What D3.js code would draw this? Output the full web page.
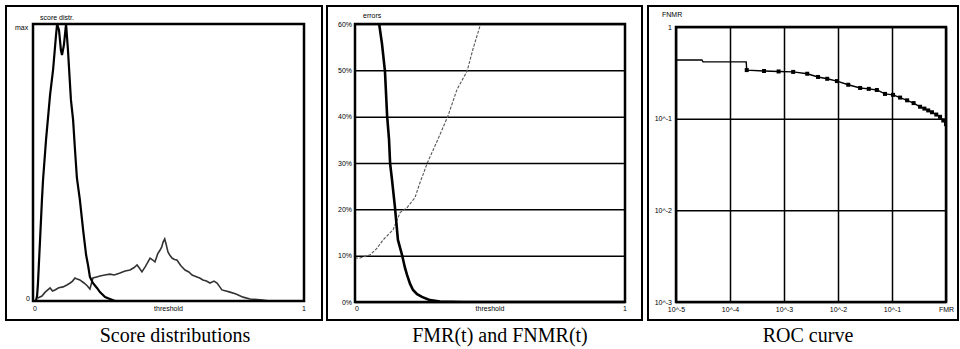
<!DOCTYPE html>
<html>
<head>
<meta charset="utf-8">
<script src="https://cdn.jsdelivr.net/npm/d3@7"></script>
<style>
  body { margin: 0; background: #fff; }
  .tiny { font-family: "Liberation Sans", Arial, sans-serif; font-size: 7px; fill: #000; }
  .caption { font-family: "Liberation Serif", "Times New Roman", serif; font-size: 20px; fill: #000; }
</style>
</head>
<body>
<div id="chart"></div>
<script>
// score distributions (threshold, normalised frequency)
const impostorT = [0.011,0.015,0.018,0.026,0.033,0.037,0.048,0.063,0.074,0.085,0.089,0.096,0.103,0.107,0.114,0.122,0.129,0.140,0.148,0.155,0.162,0.173,0.185,0.196,0.203,0.210,0.221,0.236,0.247,0.266,0.284,0.303];
const impostorV = [0,0.018,0.058,0.22,0.365,0.437,0.581,0.744,0.834,0.96,1.0,0.978,0.906,0.888,0.924,1.0,0.906,0.726,0.653,0.545,0.444,0.365,0.256,0.166,0.13,0.087,0.065,0.047,0.032,0.014,0.007,0];
const genuineT = [0.018,0.033,0.045,0.063,0.072,0.081,0.095,0.111,0.125,0.137,0.146,0.155,0.163,0.173,0.188,0.200,0.210,0.221,0.235,0.247,0.265,0.284,0.300,0.321,0.340,0.358,0.372,0.384,0.393,0.402,0.415,0.432,0.442,0.450,0.460,0.469,0.475,0.480,0.486,0.491,0.498,0.505,0.513,0.522,0.531,0.545,0.561,0.575,0.587,0.605,0.615,0.627,0.640,0.653,0.668,0.679,0.690,0.697,0.712,0.727,0.749,0.775,0.801,0.838,0.875];
const genuineV = [0.011,0.018,0.032,0.047,0.036,0.040,0.048,0.051,0.058,0.065,0.072,0.083,0.079,0.076,0.065,0.055,0.043,0.083,0.087,0.090,0.094,0.097,0.094,0.101,0.108,0.112,0.120,0.130,0.118,0.105,0.125,0.155,0.148,0.141,0.170,0.184,0.195,0.213,0.224,0.206,0.177,0.165,0.155,0.150,0.148,0.128,0.112,0.105,0.094,0.087,0.083,0.076,0.072,0.065,0.072,0.065,0.050,0.040,0.036,0.032,0.025,0.014,0.007,0.004,0];

// error rates vs threshold (%)
const fnmrT = [0.08,0.089,0.10,0.111,0.119,0.126,0.130,0.137,0.148,0.159,0.174,0.185,0.193,0.204,0.215,0.230,0.248,0.278,0.315,0.40,0.60,0.80,1.0];
const fnmrV = [63,60.2,55.7,49.8,40.1,35.1,29.9,26.4,20.4,13.4,10.2,7.4,5.8,3.9,2.6,1.7,1.1,0.4,0.1,0,0,0,0];
const fmrT = [0,0.019,0.056,0.080,0.104,0.141,0.167,0.193,0.222,0.241,0.252,0.267,0.307,0.344,0.378,0.415,0.437,0.463,0.475];
const fmrV = [9.5,9.5,10.2,11.5,13.4,15.6,19.3,20.4,22.5,25.8,27.5,29.9,35.1,40.1,45.9,49.8,54.6,59.6,62];
const pctTicks = [0,10,20,30,40,50,60];

// ROC curve (FMR, FNMR)
const rocLogFMR = [-5,-4.52,-4.5,-3.70,-3.69,-3.37,-3.10,-2.83,-2.57,-2.37,-2.20,-2.02,-1.81,-1.59,-1.43,-1.28,-1.13,-0.98,-0.85,-0.72,-0.60,-0.48,-0.40,-0.33,-0.26,-0.18,-0.11,-0.05,0];
const rocLogFNMR = [-0.36,-0.36,-0.38,-0.38,-0.47,-0.48,-0.485,-0.49,-0.51,-0.545,-0.565,-0.59,-0.63,-0.665,-0.675,-0.687,-0.73,-0.74,-0.77,-0.80,-0.83,-0.87,-0.89,-0.91,-0.93,-0.955,-0.98,-1.02,-1.06];
const rocMarkFrom = 4;
const logTicks = [1e-5,1e-4,1e-3,1e-2,1e-1,1];
const rocXLabels = ["10^-5","10^-4","10^-3","10^-2","10^-1","FMR"];
const rocYTicks = [1,1e-1,1e-2,1e-3];
const rocYLabels = ["1","10^-1","10^-2","10^-3"];

const captions = ["Score distributions","FMR(t) and FNMR(t)","ROC curve"];

const svg = d3.select('#chart').append('svg').attr('width', 960).attr('height', 349);

const panels = [
  {outer:[6,6,322,320], inner:[33,24,304,301], cap:175},
  {outer:[327,6,642,320], inner:[355,24,625,302], cap:500},
  {outer:[648,6,958,320], inner:[676,27,946,302], cap:808}
];

panels.forEach((p, i) => {
  svg.append('rect')
    .attr('x', p.outer[0]).attr('y', p.outer[1])
    .attr('width', p.outer[2]-p.outer[0]).attr('height', p.outer[3]-p.outer[1])
    .attr('fill', 'none').attr('stroke', '#000').attr('stroke-width', 2);
  svg.append('text').attr('class', 'caption')
    .attr('x', p.cap).attr('y', 342).attr('text-anchor', 'middle')
    .text(captions[i]);
});

function clip(id, p) {
  svg.append('clipPath').attr('id', id).append('rect')
    .attr('x', p.inner[0]).attr('y', p.inner[1])
    .attr('width', p.inner[2]-p.inner[0]).attr('height', p.inner[3]-p.inner[1]);
}

function frame(p) {
  svg.append('rect')
    .attr('x', p.inner[0]).attr('y', p.inner[1])
    .attr('width', p.inner[2]-p.inner[0]).attr('height', p.inner[3]-p.inner[1])
    .attr('fill', 'none').attr('stroke', '#000').attr('stroke-width', 2.5);
}

function tiny(x, y, t, anchor) {
  svg.append('text').attr('class', 'tiny')
    .attr('x', x).attr('y', y).attr('text-anchor', anchor || 'start').text(t);
}

// ---- panel 1: score distributions
{
  const p = panels[0];
  const x = d3.scaleLinear().domain([0,1]).range([p.inner[0], p.inner[2]]);
  const y = d3.scaleLinear().domain([0,1]).range([p.inner[3], p.inner[1]]);
  clip('c1', p);
  const line = d3.line().x(d => x(d[0])).y(d => y(d[1]));
  const g = svg.append('g').attr('clip-path', 'url(#c1)');
  g.append('path').datum(d3.zip(genuineT, genuineV)).attr('d', line)
    .attr('fill', 'none').attr('stroke', '#333').attr('stroke-width', 1.6);
  g.append('path').datum(d3.zip(impostorT, impostorV)).attr('d', line)
    .attr('fill', 'none').attr('stroke', '#000').attr('stroke-width', 2.2);
  frame(p);
  tiny(40, 20, 'score distr.');
  tiny(15, 30, 'max');
  tiny(x(0)-3, y(0), '0', 'end');
  tiny(x(0)+2, 311, '0', 'middle');
  tiny(x(0.5), 311, 'threshold', 'middle');
  tiny(x(1), 311, '1', 'middle');
}

// ---- panel 2: FMR(t) and FNMR(t)
{
  const p = panels[1];
  const x = d3.scaleLinear().domain([0,1]).range([p.inner[0], p.inner[2]]);
  const y = d3.scaleLinear().domain([0,60]).range([p.inner[3], p.inner[1]]);
  clip('c2', p);
  svg.append('g').attr('transform', `translate(${p.inner[0]},0)`)
    .call(d3.axisLeft(y).tickValues(pctTicks).tickSize(-(p.inner[2]-p.inner[0])).tickPadding(3).tickFormat(d => d + '%'))
    .call(a => a.select('.domain').remove())
    .call(a => a.selectAll('line').attr('stroke', '#000').attr('stroke-width', 1.5))
    .call(a => a.selectAll('text').attr('class', 'tiny').attr('font-size', null).attr('font-family', null));
  const line = d3.line().x(d => x(d[0])).y(d => y(d[1]));
  const g = svg.append('g').attr('clip-path', 'url(#c2)');
  g.append('path').datum(d3.zip(fmrT, fmrV)).attr('d', line)
    .attr('fill', 'none').attr('stroke', '#555').attr('stroke-width', 1.1).attr('stroke-dasharray', '3,1.5');
  g.append('path').datum(d3.zip(fnmrT, fnmrV)).attr('d', line)
    .attr('fill', 'none').attr('stroke', '#000').attr('stroke-width', 2.6);
  frame(p);
  tiny(p.inner[0]+8, 18, 'errors');
  tiny(x(0)+2, 311, '0', 'middle');
  tiny(x(0.5), 311, 'threshold', 'middle');
  tiny(x(1), 311, '1', 'middle');
}

// ---- panel 3: ROC curve
{
  const p = panels[2];
  const x = d3.scaleLog().domain([1e-5,1]).range([p.inner[0], p.inner[2]]);
  const y = d3.scaleLog().domain([1e-3,1]).range([p.inner[3], p.inner[1]]);
  clip('c3', p);
  svg.append('g').attr('transform', `translate(0,${p.inner[3]})`)
    .call(d3.axisBottom(x).tickValues(logTicks).tickSize(-(p.inner[3]-p.inner[1])).tickPadding(5)
      .tickFormat((d, i) => rocXLabels[i]))
    .call(a => a.select('.domain').remove())
    .call(a => a.selectAll('line').attr('stroke', '#000').attr('stroke-width', 1.5))
    .call(a => a.selectAll('text').attr('class', 'tiny').attr('font-size', null).attr('font-family', null));
  svg.append('g').attr('transform', `translate(${p.inner[0]},0)`)
    .call(d3.axisLeft(y).tickValues(rocYTicks).tickSize(-(p.inner[2]-p.inner[0])).tickPadding(4)
      .tickFormat((d, i) => rocYLabels[i]))
    .call(a => a.select('.domain').remove())
    .call(a => a.selectAll('line').attr('stroke', '#000').attr('stroke-width', 1.5))
    .call(a => a.selectAll('text').attr('class', 'tiny').attr('font-size', null).attr('font-family', null));
  const pts = d3.zip(rocLogFMR, rocLogFNMR).map(d => [Math.pow(10, d[0]), Math.pow(10, d[1])]);
  const line = d3.line().x(d => x(d[0])).y(d => y(d[1]));
  const g = svg.append('g').attr('clip-path', 'url(#c3)');
  g.append('path').datum(pts).attr('d', line)
    .attr('fill', 'none').attr('stroke', '#000').attr('stroke-width', 1.4);
  g.selectAll('rect.mk').data(pts.slice(rocMarkFrom)).enter().append('rect')
    .attr('class', 'mk')
    .attr('x', d => x(d[0]) - 2).attr('y', d => y(d[1]) - 2)
    .attr('width', 4).attr('height', 4).attr('fill', '#000');
  frame(p);
  tiny(p.inner[0]-14, 17, 'FNMR');
}
</script>
</body>
</html>
